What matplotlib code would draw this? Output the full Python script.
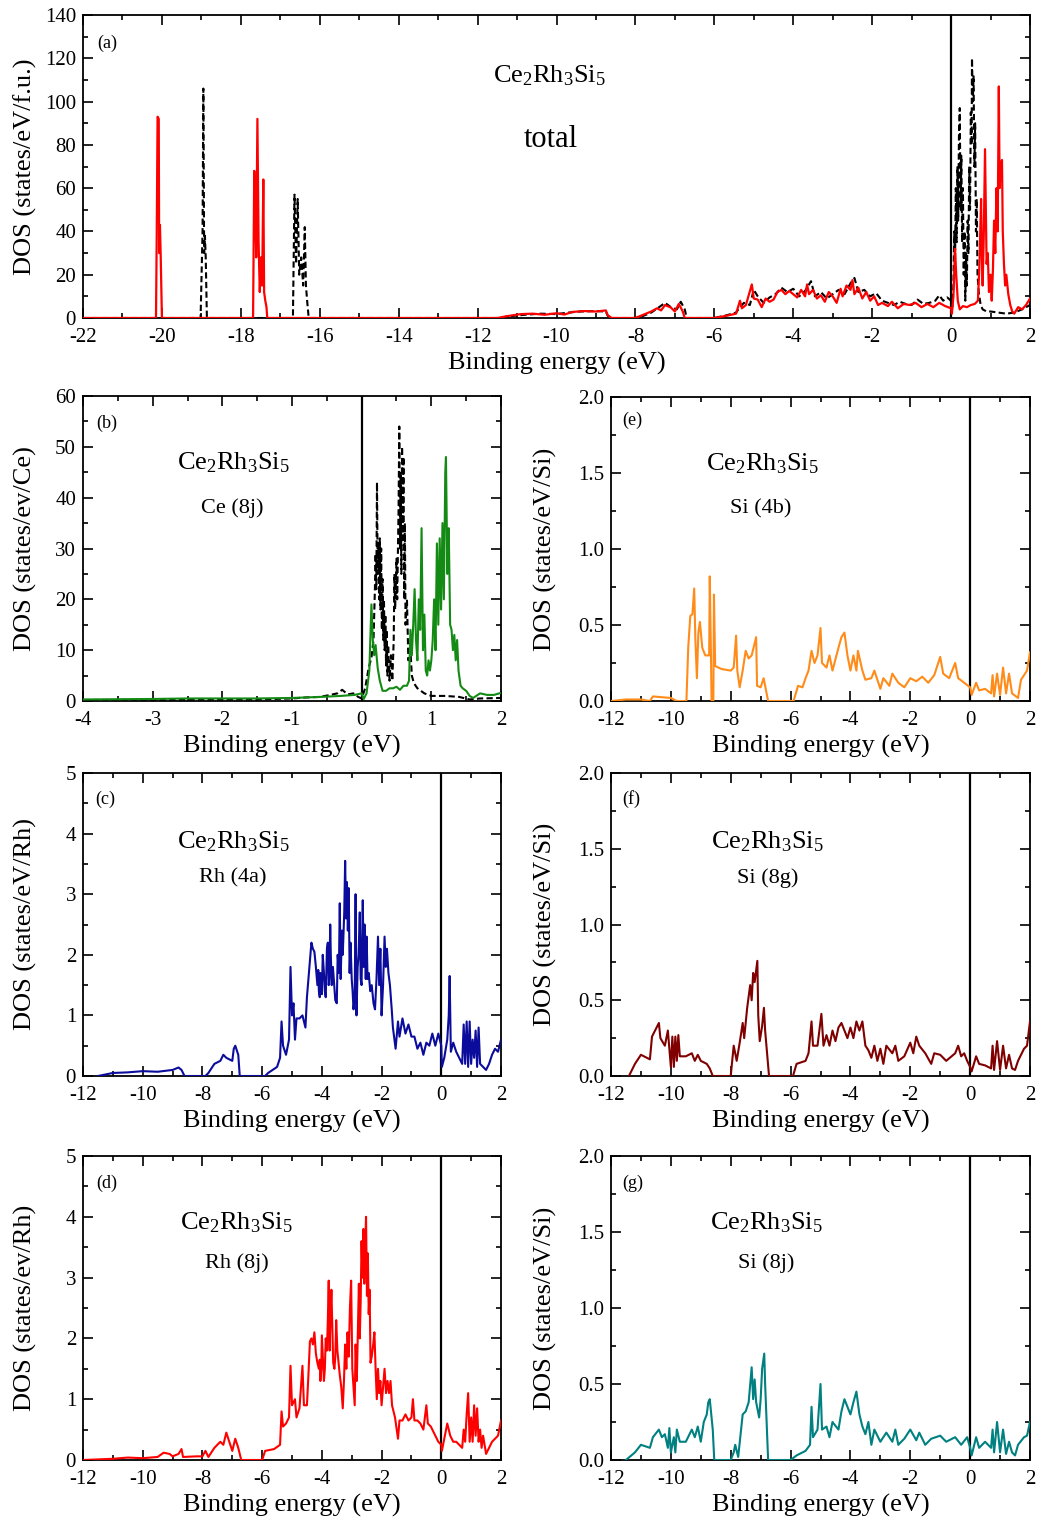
import matplotlib
matplotlib.use("Agg")
import matplotlib.pyplot as plt
import numpy as np
from matplotlib.ticker import MultipleLocator, FuncFormatter

plt.rcParams["font.family"] = ["Liberation Serif", "DejaVu Serif"]
plt.rcParams["mathtext.fontset"] = "custom"
plt.rcParams["mathtext.rm"] = "Liberation Serif"
plt.rcParams["mathtext.it"] = "Liberation Serif:italic"
plt.rcParams["axes.unicode_minus"] = False

FORMULA = r"Ce$_\mathrm{2}$Rh$_\mathrm{3}$Si$_\mathrm{5}$"

# ---- data: (energy eV, DOS) ----
total_red = [
    (-22.0, 0), (-20.15, 0), (-20.13, 42), (-20.11, 93), (-20.08, 92), (-20.07, 30), (-20.05, 43),
    (-20.03, 28), (-20.0, 0),
    (-17.69, 0), (-17.66, 68), (-17.63, 50), (-17.61, 28), (-17.58, 92), (-17.55, 35), (-17.52, 12),
    (-17.49, 28), (-17.46, 15), (-17.43, 64), (-17.41, 12), (-17.38, 8), (-17.35, 5), (-17.33, 0),
    (-11.5, 0), (-11.2, 1.0), (-10.9, 1.8), (-10.6, 2.0), (-10.3, 1.5), (-10.0, 2.2), (-9.8, 1.6),
    (-9.6, 2.8), (-9.3, 3.2), (-9.0, 3.0), (-8.75, 3.5), (-8.7, 1.2), (-8.6, 0),
    (-8.0, 0), (-7.8, 1.5), (-7.6, 3.0), (-7.45, 4.5), (-7.35, 3.5), (-7.25, 6.0), (-7.1, 4.8),
    (-7.0, 3.0), (-6.9, 6.5), (-6.8, 3.0), (-6.75, 0),
    (-6.0, 0), (-5.7, 1.0), (-5.45, 2.0), (-5.35, 8.0), (-5.3, 4.5), (-5.2, 6.0), (-5.05, 15.5),
    (-5.0, 9.0), (-4.9, 8.5), (-4.8, 5.0), (-4.7, 9.0), (-4.6, 7.5), (-4.5, 8.5), (-4.4, 12.0),
    (-4.3, 13.0), (-4.2, 11.0), (-4.1, 12.5), (-4.0, 11.0), (-3.9, 9.5), (-3.8, 13.0), (-3.7, 10.0),
    (-3.65, 15.5), (-3.6, 11.0), (-3.5, 13.0), (-3.4, 9.0), (-3.3, 10.5), (-3.2, 7.5), (-3.1, 12.0),
    (-3.0, 10.0), (-2.9, 7.0), (-2.8, 13.5), (-2.75, 10.0), (-2.65, 15.0), (-2.55, 13.0), (-2.5, 17.5),
    (-2.45, 11.0), (-2.35, 14.0), (-2.25, 9.0), (-2.15, 12.0), (-2.05, 8.0), (-1.95, 10.0), (-1.85, 6.0),
    (-1.75, 7.0), (-1.6, 5.5), (-1.5, 7.5), (-1.35, 4.5), (-1.2, 6.5), (-1.05, 6.0), (-0.9, 7.0),
    (-0.75, 5.0), (-0.6, 6.5), (-0.45, 5.0), (-0.3, 7.0), (-0.15, 5.5), (0.0, 4.5),
    (0.02, 2.0), (0.06, 10.0), (0.1, 32.0), (0.13, 20.0), (0.17, 8.0), (0.22, 4.0), (0.3, 5.5),
    (0.4, 5.0), (0.5, 6.0), (0.6, 6.5), (0.68, 8.0), (0.72, 25.0), (0.74, 40.0), (0.76, 55.0),
    (0.78, 30.0), (0.8, 15.0), (0.83, 40.0), (0.86, 78.0), (0.88, 50.0), (0.9, 25.0), (0.93, 30.0),
    (0.96, 12.0), (1.0, 20.0), (1.03, 8.0), (1.06, 22.0), (1.09, 45.0), (1.12, 30.0), (1.15, 60.0),
    (1.18, 40.0), (1.21, 107.0), (1.23, 60.0), (1.26, 70.0), (1.29, 73.0), (1.31, 40.0), (1.34, 25.0),
    (1.37, 15.0), (1.4, 20.0), (1.45, 11.0), (1.5, 6.0), (1.55, 3.0), (1.6, 2.0), (1.7, 5.0),
    (1.8, 4.0), (1.9, 6.0), (2.0, 9.0),
]

total_black = [
    (-22.0, 0), (-19.02, 0), (-18.97, 40), (-18.95, 106), (-18.93, 30), (-18.91, 38), (-18.89, 28),
    (-18.86, 0),
    (-16.68, 0), (-16.64, 57), (-16.6, 25), (-16.56, 55), (-16.52, 20), (-16.47, 28), (-16.42, 15),
    (-16.38, 42), (-16.35, 15), (-16.32, 8), (-16.28, 0),
    (-11.5, 0), (-11.2, 0.8), (-10.8, 1.5), (-10.4, 2.0), (-10.0, 1.8), (-9.7, 2.5), (-9.4, 3.0),
    (-9.0, 3.2), (-8.75, 3.0), (-8.7, 1.0), (-8.6, 0), (-8.0, 0), (-7.8, 1.0), (-7.6, 2.5),
    (-7.4, 5.0), (-7.25, 7.0), (-7.1, 5.0), (-6.95, 4.0), (-6.85, 7.5), (-6.75, 4.0), (-6.7, 0),
    (-6.0, 0), (-5.7, 1.2), (-5.45, 2.5), (-5.35, 5.0), (-5.25, 7.0), (-5.1, 6.0), (-5.0, 13.0),
    (-4.9, 10.0), (-4.75, 7.0), (-4.6, 9.5), (-4.45, 11.0), (-4.3, 14.0), (-4.15, 12.0), (-4.0, 13.5),
    (-3.85, 10.0), (-3.7, 12.5), (-3.55, 17.0), (-3.45, 10.0), (-3.3, 12.0), (-3.15, 9.0), (-3.0, 11.0),
    (-2.85, 13.0), (-2.7, 11.0), (-2.55, 16.0), (-2.45, 18.5), (-2.35, 12.0), (-2.2, 13.0),
    (-2.05, 10.0), (-1.9, 11.5), (-1.75, 8.0), (-1.6, 7.0), (-1.45, 6.0), (-1.3, 7.5), (-1.15, 6.5),
    (-1.0, 6.0), (-0.85, 8.5), (-0.7, 6.5), (-0.55, 7.0), (-0.4, 8.0), (-0.3, 10.5), (-0.2, 8.0),
    (-0.1, 9.5), (0.0, 8.0),
    (0.03, 5), (0.06, 15), (0.08, 40), (0.1, 25), (0.12, 60), (0.14, 35), (0.16, 70), (0.18, 45),
    (0.2, 85), (0.22, 97), (0.24, 50), (0.26, 75), (0.28, 35), (0.3, 60), (0.32, 20), (0.34, 40),
    (0.36, 8), (0.38, 30), (0.4, 15), (0.42, 45), (0.44, 30), (0.46, 70), (0.48, 50), (0.5, 95),
    (0.52, 80), (0.53, 120), (0.55, 100), (0.57, 112), (0.59, 70), (0.61, 90), (0.63, 40), (0.65, 55),
    (0.67, 20), (0.7, 12), (0.75, 6), (0.8, 4), (0.9, 3), (1.0, 3), (1.2, 2.5), (1.4, 2.0), (1.6, 2.5),
    (1.8, 4), (2.0, 6),
]

ce_green = [
    (-4.0, 0.3), (-3.0, 0.4), (-2.5, 0.5), (-2.0, 0.5), (-1.5, 0.5), (-1.0, 0.6), (-0.6, 0.8),
    (-0.3, 1.0), (-0.1, 1.2), (0.0, 1.5), (0.03, 0.4), (0.07, 1.5), (0.11, 6), (0.14, 19), (0.16, 12),
    (0.18, 9), (0.2, 11), (0.23, 6.5), (0.26, 4), (0.3, 2), (0.35, 2), (0.4, 2.5), (0.45, 2.5),
    (0.5, 2.8), (0.55, 2.2), (0.6, 3), (0.65, 3), (0.68, 4), (0.7, 14), (0.72, 9), (0.74, 15),
    (0.76, 22), (0.78, 12), (0.8, 8), (0.82, 20), (0.84, 14), (0.86, 34), (0.88, 10), (0.9, 17),
    (0.92, 6), (0.94, 5), (0.96, 8), (0.98, 6), (1.0, 8), (1.02, 12), (1.04, 20), (1.06, 10),
    (1.08, 31), (1.1, 15), (1.12, 32), (1.14, 18), (1.16, 35), (1.18, 20), (1.2, 45), (1.21, 48),
    (1.23, 25), (1.25, 34), (1.27, 15), (1.29, 14), (1.31, 10), (1.33, 13), (1.35, 8), (1.37, 12),
    (1.39, 6), (1.42, 3), (1.45, 2.5), (1.5, 2), (1.55, 1), (1.6, 0.6), (1.7, 1.5), (1.8, 1.2),
    (1.9, 1.2), (2.0, 1.6),
]

ce_black = [
    (-4.0, 0.2), (-3.0, 0.2), (-2.0, 0.3), (-1.5, 0.3), (-1.0, 0.5), (-0.8, 0.7), (-0.6, 0.8),
    (-0.45, 1.2), (-0.35, 1.5), (-0.28, 2.2), (-0.2, 1.3), (-0.12, 1.5), (-0.05, 0.8), (0.0, 0.5),
    (0.05, 2.5), (0.1, 6.5), (0.14, 8.5), (0.17, 12), (0.19, 22), (0.2, 29), (0.21, 22), (0.22, 43),
    (0.23, 25), (0.24, 31), (0.25, 20), (0.26, 32), (0.27, 18), (0.28, 30), (0.29, 14), (0.3, 24),
    (0.31, 12), (0.32, 20), (0.33, 10), (0.34, 17), (0.35, 7), (0.36, 14), (0.37, 5), (0.38, 11),
    (0.4, 4), (0.42, 9), (0.44, 4), (0.46, 12), (0.47, 25), (0.48, 18), (0.5, 28), (0.51, 20),
    (0.53, 38), (0.54, 54), (0.55, 30), (0.56, 45), (0.57, 25), (0.58, 50), (0.59, 32), (0.6, 48),
    (0.61, 20), (0.62, 35), (0.63, 15), (0.65, 20), (0.67, 8), (0.7, 10), (0.72, 5), (0.75, 3.5),
    (0.8, 2.5), (0.9, 1.5), (1.0, 1.0), (1.2, 1.0), (1.4, 0.8), (1.55, 0.3), (1.7, 0.5), (2.0, 0.6),
]

rh4a = [
    (-11.5, 0), (-11.0, 0.05), (-10.5, 0.06), (-10.0, 0.08), (-9.5, 0.07), (-9.0, 0.1), (-8.8, 0.14),
    (-8.7, 0.1), (-8.6, 0.0), (-7.9, 0.0), (-7.8, 0.05), (-7.6, 0.2), (-7.4, 0.25), (-7.3, 0.35),
    (-7.2, 0.3), (-7.0, 0.25), (-6.95, 0.45), (-6.9, 0.5), (-6.8, 0.35), (-6.75, 0.0), (-5.9, 0.0),
    (-5.8, 0.05), (-5.5, 0.15), (-5.4, 0.3), (-5.35, 0.9), (-5.3, 0.5), (-5.2, 0.35), (-5.1, 0.6),
    (-5.05, 1.8), (-5.0, 1.0), (-4.95, 1.2), (-4.9, 0.6), (-4.85, 0.95), (-4.75, 0.95), (-4.65, 1.0),
    (-4.55, 0.8),
    (-4.5, 1.3), (-4.45, 1.6), (-4.4, 1.9), (-4.35, 2.2), (-4.3, 2.1), (-4.25, 2.05), (-4.2, 1.8),
    (-4.15, 1.5), (-4.12, 1.75), (-4.1, 1.4), (-4.07, 1.3), (-4.05, 1.7), (-4.02, 1.5), (-4.0, 1.35),
    (-3.97, 2.0), (-3.93, 1.7), (-3.9, 1.4), (-3.87, 1.3), (-3.83, 2.1), (-3.8, 2.2), (-3.77, 1.5),
    (-3.75, 1.6), (-3.72, 2.5), (-3.7, 2.0), (-3.67, 1.5), (-3.63, 1.8), (-3.6, 1.6), (-3.55, 1.25),
    (-3.5, 1.2), (-3.47, 2.0), (-3.43, 1.7), (-3.4, 2.85), (-3.37, 1.6), (-3.33, 2.4), (-3.3, 2.0),
    (-3.25, 2.7), (-3.22, 3.55), (-3.19, 2.6), (-3.16, 3.2), (-3.13, 2.4), (-3.1, 3.1), (-3.07, 1.7),
    (-3.04, 2.2), (-3.0, 1.6), (-2.97, 1.4), (-2.94, 1.1), (-2.9, 1.3), (-2.87, 3.0), (-2.84, 1.0),
    (-2.8, 1.8), (-2.77, 2.0), (-2.73, 2.7), (-2.7, 1.6), (-2.67, 1.5), (-2.63, 2.9), (-2.6, 1.8),
    (-2.57, 2.5), (-2.53, 1.6), (-2.5, 2.3), (-2.47, 1.6), (-2.43, 1.7), (-2.38, 1.4), (-2.33, 1.5),
    (-2.27, 1.2), (-2.22, 1.1), (-2.17, 1.6), (-2.12, 2.3), (-2.08, 1.5), (-2.04, 2.1), (-2.0, 1.0),
    (-1.95, 1.5), (-1.9, 2.3), (-1.86, 1.8), (-1.82, 2.1), (-1.77, 1.7), (-1.72, 1.5), (-1.66, 1.1),
    (-1.62, 0.8), (-1.58, 0.65), (-1.53, 0.45),
    (-1.45, 0.9), (-1.4, 0.65), (-1.3, 0.95), (-1.2, 0.7), (-1.1, 0.85), (-1.0, 0.65), (-0.9, 0.65),
    (-0.8, 0.45), (-0.7, 0.55), (-0.6, 0.35), (-0.5, 0.55), (-0.4, 0.5), (-0.3, 0.7), (-0.2, 0.5),
    (-0.1, 0.7), (0.0, 0.5), (0.02, 0.15), (0.1, 0.3), (0.2, 0.6), (0.25, 1.0), (0.28, 1.65),
    (0.32, 0.4), (0.4, 0.55), (0.5, 0.4), (0.6, 0.3), (0.7, 0.2), (0.75, 0.85), (0.8, 0.2),
    (0.85, 0.9), (0.9, 0.15), (0.95, 0.9), (1.0, 0.2), (1.05, 0.6), (1.1, 0.3), (1.15, 0.75),
    (1.2, 0.15), (1.25, 0.8), (1.3, 0.2), (1.4, 0.15), (1.5, 0.1), (1.6, 0.2), (1.7, 0.35),
    (1.8, 0.45), (1.9, 0.4), (2.0, 0.6),
]

rh8j = [
    (-12.0, 0), (-11.0, 0.02), (-10.5, 0.04), (-10.0, 0.03), (-9.5, 0.05), (-9.3, 0.12), (-9.1, 0.1),
    (-9.0, 0.06), (-8.8, 0.1), (-8.7, 0.18), (-8.65, 0.05), (-8.2, 0.06), (-8.0, 0.06), (-7.9, 0.15),
    (-7.8, 0.05), (-7.6, 0.2), (-7.4, 0.3), (-7.3, 0.25), (-7.2, 0.45), (-7.1, 0.3), (-7.0, 0.15),
    (-6.9, 0.35), (-6.8, 0.2), (-6.7, 0.0), (-6.0, 0.0), (-5.9, 0.15), (-5.6, 0.18), (-5.4, 0.25),
    (-5.35, 0.8), (-5.3, 0.55), (-5.2, 0.6), (-5.1, 0.7), (-5.05, 1.55), (-5.0, 0.9), (-4.9, 1.0),
    (-4.85, 0.7), (-4.75, 0.85), (-4.65, 1.55), (-4.6, 0.9),
    (-4.5, 0.9), (-4.45, 1.4), (-4.4, 1.95), (-4.35, 2.0), (-4.3, 1.9), (-4.25, 2.1), (-4.2, 1.75),
    (-4.15, 1.6), (-4.1, 1.5), (-4.07, 1.65), (-4.05, 1.3), (-4.02, 1.5), (-4.0, 2.05), (-3.96, 1.6),
    (-3.93, 1.3), (-3.9, 1.5), (-3.87, 2.0), (-3.83, 1.8), (-3.8, 2.3), (-3.77, 2.95), (-3.74, 1.8),
    (-3.71, 2.4), (-3.68, 2.8), (-3.65, 2.2), (-3.62, 1.6), (-3.58, 1.5), (-3.55, 1.7), (-3.52, 2.3),
    (-3.48, 1.8), (-3.44, 1.6), (-3.4, 1.4), (-3.35, 1.2), (-3.3, 0.85), (-3.26, 1.3), (-3.22, 1.9),
    (-3.18, 1.5), (-3.14, 2.1), (-3.1, 1.7), (-3.06, 2.5), (-3.02, 2.95), (-2.98, 1.5), (-2.94, 1.2),
    (-2.9, 0.9), (-2.87, 1.9), (-2.83, 1.3), (-2.79, 2.2), (-2.76, 2.9), (-2.73, 2.0), (-2.7, 2.6),
    (-2.67, 3.6), (-2.64, 3.0), (-2.61, 3.8), (-2.58, 2.9), (-2.55, 3.5), (-2.52, 4.0), (-2.49, 2.7),
    (-2.46, 3.4), (-2.43, 2.4), (-2.4, 2.8), (-2.37, 1.6), (-2.33, 1.7), (-2.28, 1.9), (-2.24, 2.1),
    (-2.2, 1.5), (-2.16, 1.0), (-2.12, 1.5), (-2.08, 1.1), (-2.04, 1.3), (-2.0, 0.9), (-1.95, 1.2),
    (-1.9, 1.5), (-1.85, 1.1), (-1.8, 1.3), (-1.75, 1.1), (-1.7, 1.3), (-1.65, 0.9), (-1.6, 0.8),
    (-1.55, 0.7),
    (-1.45, 0.35), (-1.4, 0.65), (-1.3, 0.65), (-1.2, 0.75), (-1.1, 0.65), (-1.0, 0.7), (-0.95, 1.0),
    (-0.9, 0.65), (-0.8, 0.65), (-0.7, 0.6), (-0.6, 0.5), (-0.5, 0.9), (-0.45, 0.6), (-0.35, 0.55),
    (-0.2, 0.4), (-0.1, 0.3), (0.0, 0.25), (0.02, 0.15), (0.1, 0.35), (0.2, 0.6), (0.3, 0.4),
    (0.4, 0.3), (0.5, 0.3), (0.6, 0.25), (0.7, 0.2), (0.75, 0.5), (0.8, 0.3), (0.85, 0.75), (0.9, 1.1),
    (0.95, 0.3), (1.0, 0.7), (1.05, 0.3), (1.1, 0.9), (1.15, 0.4), (1.2, 0.85), (1.25, 0.3), (1.3, 0.5),
    (1.35, 0.2), (1.4, 0.4), (1.5, 0.1), (1.6, 0.2), (1.7, 0.3), (1.8, 0.35), (1.9, 0.4), (2.0, 0.65),
]

si4b = [
    (-12.0, 0), (-11.5, 0.01), (-11.0, 0.01), (-10.7, 0.0), (-10.6, 0.03), (-10.0, 0.02), (-9.8, 0.0),
    (-9.48, 0.0), (-9.42, 0.35), (-9.35, 0.56), (-9.28, 0.57), (-9.22, 0.74), (-9.18, 0.4),
    (-9.13, 0.15), (-9.08, 0.45), (-9.03, 0.52), (-8.95, 0.35), (-8.85, 0.3), (-8.72, 0.3),
    (-8.7, 0.82), (-8.66, 0.3), (-8.64, 0.0), (-8.58, 0.0), (-8.56, 0.7), (-8.52, 0.23), (-8.3, 0.21),
    (-8.0, 0.2), (-7.9, 0.22), (-7.82, 0.43), (-7.78, 0.2), (-7.7, 0.09), (-7.6, 0.2), (-7.5, 0.33),
    (-7.4, 0.28), (-7.3, 0.3), (-7.15, 0.42), (-7.12, 0.1), (-7.0, 0.09), (-6.9, 0.15), (-6.75, 0.0),
    (-5.9, 0.0), (-5.75, 0.1), (-5.6, 0.09), (-5.5, 0.15), (-5.4, 0.2), (-5.3, 0.33), (-5.2, 0.25),
    (-5.1, 0.3), (-5.0, 0.48), (-4.95, 0.25), (-4.8, 0.22), (-4.7, 0.3), (-4.6, 0.2), (-4.4, 0.35),
    (-4.3, 0.42), (-4.2, 0.45), (-4.1, 0.3), (-4.0, 0.2), (-3.9, 0.3), (-3.8, 0.2), (-3.75, 0.33),
    (-3.6, 0.2), (-3.5, 0.14), (-3.3, 0.15), (-3.2, 0.2), (-3.0, 0.08), (-2.9, 0.15), (-2.7, 0.1),
    (-2.6, 0.18), (-2.4, 0.12), (-2.2, 0.09), (-2.0, 0.15), (-1.8, 0.13), (-1.6, 0.16), (-1.4, 0.12),
    (-1.2, 0.17), (-1.0, 0.29), (-0.9, 0.18), (-0.7, 0.15), (-0.5, 0.25), (-0.4, 0.15), (-0.2, 0.12),
    (0.0, 0.09), (0.05, 0.04), (0.2, 0.12), (0.3, 0.07), (0.5, 0.08), (0.7, 0.05), (0.75, 0.17),
    (0.8, 0.03), (0.9, 0.18), (1.0, 0.04), (1.1, 0.22), (1.2, 0.05), (1.3, 0.18), (1.4, 0.05),
    (1.6, 0.02), (1.7, 0.14), (1.9, 0.2), (2.0, 0.32),
]

si8g = [
    (-11.4, 0), (-11.2, 0.08), (-11.0, 0.14), (-10.7, 0.11), (-10.63, 0.26), (-10.4, 0.35),
    (-10.35, 0.25), (-10.2, 0.2), (-10.1, 0.3), (-10.0, 0.06), (-9.95, 0.26), (-9.9, 0.06),
    (-9.85, 0.26), (-9.8, 0.1), (-9.75, 0.27), (-9.7, 0.13), (-9.5, 0.13), (-9.3, 0.15), (-9.2, 0.1),
    (-9.1, 0.14), (-9.0, 0.1), (-8.8, 0.08), (-8.7, 0.05), (-8.6, 0.0), (-8.0, 0.0), (-7.9, 0.2),
    (-7.8, 0.1), (-7.7, 0.22), (-7.6, 0.35), (-7.55, 0.25), (-7.45, 0.45), (-7.35, 0.6), (-7.3, 0.5),
    (-7.25, 0.68), (-7.2, 0.62), (-7.11, 0.76), (-7.08, 0.4), (-7.03, 0.23), (-6.95, 0.33),
    (-6.89, 0.45), (-6.85, 0.3), (-6.72, 0.0), (-5.92, 0.0), (-5.8, 0.08), (-5.5, 0.1), (-5.4, 0.15),
    (-5.3, 0.36), (-5.25, 0.2), (-5.1, 0.2), (-4.97, 0.41), (-4.9, 0.2), (-4.8, 0.27), (-4.7, 0.2),
    (-4.6, 0.3), (-4.5, 0.23), (-4.4, 0.32), (-4.3, 0.35), (-4.2, 0.3), (-4.1, 0.25), (-4.0, 0.32),
    (-3.9, 0.25), (-3.8, 0.36), (-3.7, 0.3), (-3.6, 0.36), (-3.5, 0.2), (-3.4, 0.17), (-3.3, 0.12),
    (-3.2, 0.2), (-3.1, 0.1), (-3.0, 0.18), (-2.9, 0.08), (-2.8, 0.2), (-2.6, 0.15), (-2.5, 0.2),
    (-2.4, 0.1), (-2.2, 0.13), (-2.0, 0.22), (-1.9, 0.15), (-1.8, 0.26), (-1.7, 0.2), (-1.5, 0.15),
    (-1.3, 0.08), (-1.2, 0.15), (-1.0, 0.14), (-0.8, 0.1), (-0.5, 0.15), (-0.4, 0.2), (-0.3, 0.13),
    (-0.2, 0.15), (-0.1, 0.1), (0.0, 0.06), (0.05, 0.03), (0.2, 0.13), (0.3, 0.08), (0.5, 0.07),
    (0.7, 0.05), (0.75, 0.2), (0.8, 0.04), (0.9, 0.23), (1.0, 0.04), (1.1, 0.2), (1.2, 0.05),
    (1.3, 0.14), (1.4, 0.05), (1.5, 0.04), (1.6, 0.1), (1.8, 0.18), (1.9, 0.2), (2.0, 0.36),
]

si8j = [
    (-11.5, 0), (-11.2, 0.05), (-11.0, 0.1), (-10.7, 0.08), (-10.6, 0.15), (-10.4, 0.2), (-10.3, 0.15),
    (-10.2, 0.17), (-10.1, 0.08), (-10.05, 0.21), (-10.0, 0.05), (-9.9, 0.15), (-9.85, 0.05),
    (-9.8, 0.2), (-9.7, 0.12), (-9.5, 0.12), (-9.3, 0.2), (-9.2, 0.15), (-9.1, 0.22), (-9.0, 0.12),
    (-8.9, 0.25), (-8.8, 0.3), (-8.75, 0.38), (-8.7, 0.4), (-8.6, 0.2), (-8.55, 0.0), (-8.0, 0.0),
    (-7.9, 0.05), (-7.85, 0.1), (-7.75, 0.02), (-7.6, 0.3), (-7.5, 0.32), (-7.4, 0.38), (-7.3, 0.61),
    (-7.25, 0.4), (-7.2, 0.53), (-7.15, 0.38), (-7.05, 0.28), (-7.0, 0.4), (-6.95, 0.6), (-6.88, 0.7),
    (-6.85, 0.5), (-6.75, 0.0), (-6.0, 0.0), (-5.8, 0.03), (-5.5, 0.06), (-5.35, 0.1), (-5.3, 0.35),
    (-5.25, 0.15), (-5.1, 0.2), (-5.0, 0.5), (-4.95, 0.2), (-4.8, 0.22), (-4.7, 0.15), (-4.6, 0.25),
    (-4.4, 0.2), (-4.3, 0.32), (-4.2, 0.4), (-4.1, 0.35), (-4.0, 0.3), (-3.9, 0.38), (-3.8, 0.45),
    (-3.7, 0.3), (-3.6, 0.22), (-3.5, 0.17), (-3.4, 0.25), (-3.3, 0.1), (-3.2, 0.2), (-3.0, 0.12),
    (-2.8, 0.18), (-2.6, 0.12), (-2.5, 0.2), (-2.4, 0.1), (-2.2, 0.14), (-2.0, 0.2), (-1.8, 0.13),
    (-1.7, 0.18), (-1.5, 0.1), (-1.3, 0.14), (-1.0, 0.16), (-0.8, 0.12), (-0.5, 0.15), (-0.3, 0.1),
    (-0.1, 0.15), (0.0, 0.08), (0.05, 0.03), (0.2, 0.15), (0.3, 0.08), (0.5, 0.12), (0.7, 0.08),
    (0.75, 0.2), (0.8, 0.05), (0.9, 0.25), (1.0, 0.05), (1.1, 0.2), (1.2, 0.04), (1.3, 0.12),
    (1.4, 0.05), (1.5, 0.03), (1.6, 0.1), (1.8, 0.15), (1.9, 0.16), (2.0, 0.25),
]

W, H = 1037, 1521
fig = plt.figure(figsize=(W / 100, H / 100), dpi=100)


def add_axes(left, top, right, bottom):
    return fig.add_axes([left / W, 1 - bottom / H, (right - left) / W, (bottom - top) / H])


def style(ax, xlim, ylim, xmaj, xmin, ymaj, ymin, ylabel, ylab_x, yfmt=None):
    ax.set_xlim(*xlim)
    ax.set_ylim(*ylim)
    ax.xaxis.set_major_locator(MultipleLocator(xmaj))
    ax.xaxis.set_minor_locator(MultipleLocator(xmin))
    ax.yaxis.set_major_locator(MultipleLocator(ymaj))
    ax.yaxis.set_minor_locator(MultipleLocator(ymin))
    if yfmt:
        ax.yaxis.set_major_formatter(yfmt)
    ax.tick_params(which="both", direction="in", top=True, right=True, width=1.2)
    ax.tick_params(which="major", length=7, labelsize=15)
    ax.tick_params(axis="x", which="major", pad=7.5)
    ax.tick_params(axis="y", which="major", pad=5)
    ax.tick_params(which="minor", length=3.5)
    for s in ax.spines.values():
        s.set_linewidth(1.3)
    ax.axvline(0, color="black", lw=1.6, zorder=1)
    ax.set_xlabel("Binding energy (eV)", fontsize=19)
    ax.set_ylabel(ylabel, fontsize=19)
    ax.xaxis.set_label_coords(0.5, -0.112)
    ax.yaxis.set_label_coords(ylab_x, 0.5)


def draw(ax, data, **kw):
    arr = np.array(data).T
    ax.plot(arr[0], arr[1], zorder=3, **kw)


def labels(ax, tag, tag_x, tag_y, fx, fy, site=None, sx=None, sy=None):
    ax.text(tag_x, tag_y, tag, transform=ax.transAxes, fontsize=13, ha="left", va="center")
    ax.text(fx, fy, FORMULA, transform=ax.transAxes, fontsize=19, ha="center", va="center")
    if site:
        ax.text(sx, sy, site, transform=ax.transAxes, fontsize=16, ha="center", va="center")


dashed = dict(color="black", lw=1.5, ls=(0, (3, 1.6)))
one_dec = FuncFormatter(lambda v, p: f"{v:.1f}")

# (a) total
ax = add_axes(83, 15, 1030, 318)
draw(ax, total_black, **dashed)
draw(ax, total_red, color="#ff0000", lw=1.6)
style(ax, (-22, 2), (0, 140), 2, 1, 20, 10, "DOS (states/eV/f.u.)", -0.049)
labels(ax, "(a)", 0.0148, 0.908, 0.493, 0.80)
ax.text(0.494, 0.59, "total", transform=ax.transAxes, fontsize=22, ha="center", va="center")

# (b) Ce 8j
ax = add_axes(83, 396, 501, 701)
draw(ax, ce_black, **dashed)
draw(ax, ce_green, color="#138a13", lw=1.5)
style(ax, (-4, 2), (0, 60), 1, 0.5, 10, 5, "DOS (states/ev/Ce)", -0.11)
labels(ax, "(b)", 0.031, 0.911, 0.36, 0.78, "Ce (8j)", 0.357, 0.633)

# (c) Rh 4a
ax = add_axes(83, 773, 501, 1076)
draw(ax, rh4a, color="#0c0c9c", lw=1.5)
style(ax, (-12, 2), (0, 5), 2, 1, 1, 0.5, "DOS (states/eV/Rh)", -0.11)
labels(ax, "(c)", 0.029, 0.914, 0.36, 0.772, "Rh (4a)", 0.359, 0.653)

# (d) Rh 8j
ax = add_axes(83, 1156, 501, 1460)
draw(ax, rh8j, color="#ff0000", lw=1.5)
style(ax, (-12, 2), (0, 5), 2, 1, 1, 0.5, "DOS (states/ev/Rh)", -0.11)
labels(ax, "(d)", 0.031, 0.911, 0.368, 0.78, "Rh (8j)", 0.368, 0.648)

# (e) Si 4b
ax = add_axes(611, 397, 1030, 701)
draw(ax, si4b, color="#ff8c1a", lw=1.5)
style(ax, (-12, 2), (0, 2), 2, 1, 0.5, 0.25, "DOS (states/eV/Si)", -0.129, one_dec)
labels(ax, "(e)", 0.026, 0.924, 0.362, 0.78, "Si (4b)", 0.358, 0.632)

# (f) Si 8g
ax = add_axes(611, 773, 1030, 1076)
draw(ax, si8g, color="#800000", lw=1.5)
style(ax, (-12, 2), (0, 2), 2, 1, 0.5, 0.25, "DOS (states/eV/Si)", -0.129, one_dec)
labels(ax, "(f)", 0.026, 0.914, 0.374, 0.772, "Si (8g)", 0.375, 0.653)

# (g) Si 8j
ax = add_axes(611, 1156, 1030, 1460)
draw(ax, si8j, color="#008080", lw=1.5)
style(ax, (-12, 2), (0, 2), 2, 1, 0.5, 0.25, "DOS (states/eV/Si)", -0.129, one_dec)
labels(ax, "(g)", 0.026, 0.911, 0.37, 0.78, "Si (8j)", 0.37, 0.648)

fig.savefig("out.png", dpi=100)
